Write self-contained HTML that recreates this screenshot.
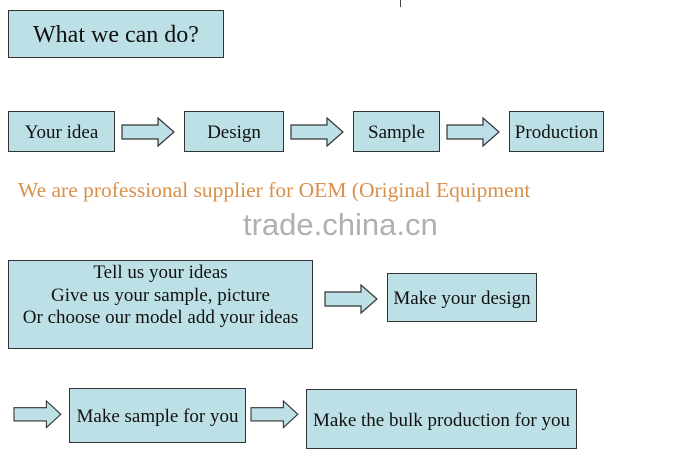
<!DOCTYPE html>
<html><head><meta charset="utf-8"><style>
body{margin:0;width:683px;height:469px;background:#fff;position:relative;overflow:hidden;font-family:"Liberation Serif",serif;}
.b{position:absolute;box-sizing:border-box;background:#bde0e6;border:1.5px solid #333;display:flex;align-items:center;justify-content:center;text-align:center;color:#111;font-size:19px;white-space:nowrap;padding-top:3px;}
svg{position:absolute;}
.t{position:absolute;white-space:nowrap;}
</style></head><body>
<div style="position:absolute;left:400px;top:0;width:1px;height:7px;background:#444"></div>
<div class="b" style="left:8px;top:10px;width:216px;height:48px;font-size:24px;">What we can do?</div>

<div class="b" style="left:8px;top:111px;width:107px;height:41px;">Your idea</div>
<div class="b" style="left:184px;top:111px;width:100px;height:41px;">Design</div>
<div class="b" style="left:353px;top:111px;width:87px;height:41px;">Sample</div>
<div class="b" style="left:509px;top:111px;width:95px;height:41px;">Production</div>

<svg width="683" height="469" style="left:0;top:0">
<defs><polygon id="a" points="0,7 36,7 36,0 52,14 36,28 36,21 0,21" fill="#bde0e6" stroke="#333" stroke-width="1.2"/></defs>
<use href="#a" transform="translate(122,118)"/>
<use href="#a" transform="translate(291,118)"/>
<use href="#a" transform="translate(447,118)"/>
<use href="#a" transform="translate(325,285)"/>
<use href="#a" transform="translate(14,401) scale(0.9,0.95)"/>
<use href="#a" transform="translate(251,401) scale(0.9,0.95)"/>
</svg>

<div class="t" style="left:18px;top:178px;font-size:21.5px;color:#d9904a;">We are professional supplier for OEM (Original Equipment</div>
<div class="t" style="left:243px;top:207px;font-size:31px;color:#b0b0b0;font-family:'Liberation Sans',sans-serif;">trade.china.cn</div>

<div class="b" style="left:8px;top:260px;width:305px;height:89px;align-items:flex-start;line-height:22.5px;padding-top:1px;">Tell us your ideas<br>Give us your sample, picture<br>Or choose our model add your ideas</div>
<div class="b" style="left:387px;top:273px;width:150px;height:49px;">Make your design</div>

<div class="b" style="left:69px;top:388px;width:177px;height:55px;">Make sample for you</div>
<div class="b" style="left:306px;top:389px;width:271px;height:60px;">Make the bulk production for you</div>
</body></html>
